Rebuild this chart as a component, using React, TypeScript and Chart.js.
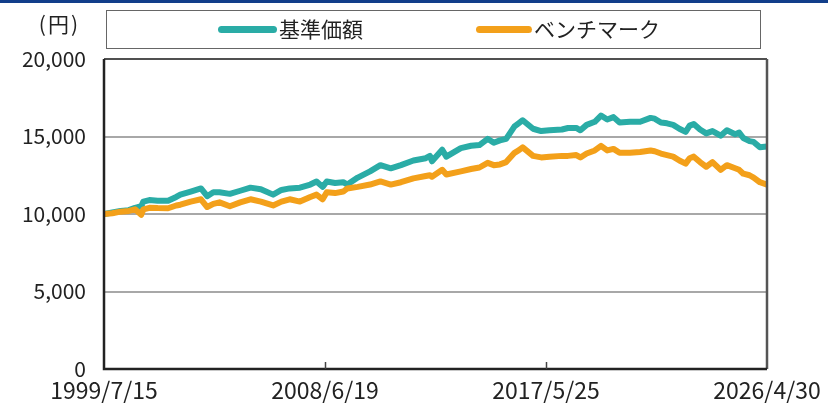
import React, { useEffect, useRef } from "react";
import { Chart, registerables } from "chart.js";

Chart.register(...registerables);

const dates = [
  "1999/7/15", "1999/11/15", "2000/3/15", "2000/7/15", "2000/10/15", "2001/1/15", "2001/2/15", "2001/5/15",
  "2001/9/15", "2002/2/15", "2002/6/15", "2002/8/15", "2003/1/15", "2003/6/15", "2003/9/15", "2003/12/15",
  "2004/3/15", "2004/8/15", "2005/1/15", "2005/6/15", "2005/11/15", "2006/5/15", "2006/9/15", "2007/1/15",
  "2007/6/15", "2007/11/15", "2008/2/15", "2008/5/15", "2008/7/15", "2008/11/15", "2009/3/15", "2009/5/15",
  "2009/10/15", "2010/4/15", "2010/9/15", "2011/2/15", "2011/7/15", "2012/1/15", "2012/7/15", "2012/9/15",
  "2012/10/15", "2013/3/15", "2013/5/15", "2013/12/15", "2014/5/15", "2014/9/15", "2015/1/15", "2015/4/15",
  "2015/7/15", "2015/10/15", "2016/2/15", "2016/4/15", "2016/6/15", "2016/11/15", "2017/3/15", "2017/7/15",
  "2018/1/15", "2018/4/15", "2018/8/15", "2018/10/15", "2019/1/15", "2019/5/15", "2019/8/15", "2019/11/15",
  "2020/2/15", "2020/5/15", "2020/10/15", "2021/3/15", "2021/8/15", "2021/10/15", "2022/1/15", "2022/4/15",
  "2022/7/15", "2022/10/15", "2023/1/15", "2023/3/15", "2023/5/15", "2023/8/15", "2023/11/15", "2024/2/15",
  "2024/6/15", "2024/9/15", "2025/1/15", "2025/3/15", "2025/5/15", "2025/8/15", "2025/10/15", "2026/1/15",
  "2026/4/30",
];

const navValues = [
  10000, 10100, 10200, 10250, 10400, 10500, 10800, 10900,
  10850, 10850, 11100, 11250, 11450, 11650, 11150, 11400,
  11400, 11300, 11500, 11700, 11600, 11250, 11550, 11650,
  11700, 11900, 12100, 11750, 12100, 12000, 12050, 11900,
  12350, 12750, 13150, 12950, 13150, 13450, 13600, 13750,
  13400, 14150, 13700, 14250, 14400, 14450, 14850, 14600,
  14750, 14850, 15650, 15850, 16050, 15500, 15350, 15400,
  15450, 15550, 15550, 15400, 15750, 15950, 16350, 16100,
  16250, 15900, 15950, 15950, 16200, 16150, 15900, 15850,
  15750, 15500, 15300, 15700, 15800, 15450, 15200, 15350,
  15050, 15400, 15150, 15250, 14900, 14700, 14650, 14300,
  14350,
];

const benchValues = [
  10000, 10050, 10150, 10200, 10300, 9950, 10300, 10400,
  10380, 10370, 10550, 10600, 10800, 10950, 10450, 10650,
  10750, 10500, 10750, 10950, 10800, 10550, 10800, 10950,
  10800, 11100, 11250, 10950, 11400, 11350, 11450, 11650,
  11750, 11900, 12100, 11900, 12050, 12300, 12450, 12500,
  12400, 12850, 12550, 12750, 12900, 13000, 13300, 13150,
  13200, 13350, 13950, 14100, 14300, 13750, 13650, 13700,
  13750, 13750, 13800, 13650, 13900, 14100, 14400, 14100,
  14200, 13950, 13950, 14000, 14100, 14050, 13900, 13800,
  13700, 13450, 13250, 13600, 13700, 13350, 13050, 13350,
  12850, 13150, 12950, 12850, 12600, 12500, 12350, 12050,
  11900,
];

const xTickLabels = ["1999/7/15", "2008/6/19", "2017/5/25", "2026/4/30"];
const yTickValues = [0, 5000, 10000, 15000, 20000];
const seriesNames = ["基準価額", "ベンチマーク"];
const yUnit = "(円)";

const TEAL = "#2aaca6";
const ORANGE = "#f3a01a";
const FONT = '"Noto Sans CJK JP", "Noto Sans", sans-serif';

function toMs(s: string): number {
  const [y, m, d] = s.split("/").map(Number);
  return Date.UTC(y, m - 1, d);
}

const tickMs = xTickLabels.map(toMs);

const framePlugin = {
  id: "frame",
  afterDraw(chart: any) {
    const { ctx, chartArea } = chart;
    const { left, right, top, bottom } = chartArea;
    ctx.save();
    ctx.strokeStyle = "#333";
    ctx.lineWidth = 1.5;
    ctx.beginPath();
    ctx.moveTo(left, top);
    ctx.lineTo(right, top);
    ctx.stroke();
    ctx.strokeStyle = "#555";
    ctx.lineWidth = 2.5;
    ctx.beginPath();
    ctx.moveTo(right, top);
    ctx.lineTo(right, bottom);
    ctx.stroke();
    ctx.strokeStyle = "#222";
    ctx.lineWidth = 2.5;
    ctx.beginPath();
    ctx.moveTo(left, top);
    ctx.lineTo(left, bottom);
    ctx.lineTo(right, bottom);
    ctx.stroke();
    const xs = chart.scales.x;
    ctx.strokeStyle = "#444";
    ctx.lineWidth = 1.5;
    tickMs.slice(1, -1).forEach((v) => {
      const px = Math.round(xs.getPixelForValue(v)) + 0.5;
      ctx.beginPath();
      ctx.moveTo(px, bottom);
      ctx.lineTo(px, bottom - 7);
      ctx.stroke();
    });
    ctx.restore();
  },
};

export default function App() {
  const ref = useRef<HTMLCanvasElement | null>(null);

  useEffect(() => {
    if (!ref.current) return;
    const xs = dates.map(toMs);
    const chart = new Chart(ref.current, {
      type: "line",
      data: {
        datasets: [
          {
            label: seriesNames[1],
            data: xs.map((x, i) => ({ x, y: benchValues[i] })),
            borderColor: ORANGE,
            backgroundColor: ORANGE,
            borderWidth: 6,
            pointRadius: 0,
            tension: 0,
            borderJoinStyle: "round",
            borderCapStyle: "round",
          },
          {
            label: seriesNames[0],
            data: xs.map((x, i) => ({ x, y: navValues[i] })),
            borderColor: TEAL,
            backgroundColor: TEAL,
            borderWidth: 6,
            pointRadius: 0,
            tension: 0,
            borderJoinStyle: "round",
            borderCapStyle: "round",
          },
        ],
      },
      options: {
        animation: false,
        responsive: false,
        maintainAspectRatio: false,
        layout: { padding: { left: 0, right: 61, top: 59, bottom: 0 } },
        plugins: { legend: { display: false }, tooltip: { enabled: false } },
        scales: {
          x: {
            type: "linear",
            min: tickMs[0],
            max: tickMs[tickMs.length - 1],
            afterFit: (s: any) => {
              s.height = 34;
            },
            afterBuildTicks: (s: any) => {
              s.ticks = tickMs.map((v) => ({ value: v }));
            },
            ticks: {
              autoSkip: false,
              maxRotation: 0,
              padding: 7,
              color: "#222",
              font: { family: FONT, size: 23 },
              callback: (v: any) => {
                const i = tickMs.indexOf(Number(v));
                return i >= 0 ? xTickLabels[i] : "";
              },
            },
            grid: { display: false, drawTicks: false },
            border: { display: false },
          },
          y: {
            min: 0,
            max: 20000,
            afterFit: (s: any) => {
              s.width = 104;
            },
            afterBuildTicks: (s: any) => {
              s.ticks = yTickValues.map((v) => ({ value: v }));
            },
            ticks: {
              padding: 18,
              color: "#222",
              font: { family: FONT, size: 21 },
              callback: (v: any) => Number(v).toLocaleString("en-US"),
            },
            grid: { color: "#a8a8a8", lineWidth: 2, drawTicks: false },
            border: { display: false },
          },
        },
      },
      plugins: [framePlugin],
    });
    return () => chart.destroy();
  }, []);

  return (
    <div style={{ position: "absolute", left: 0, top: 0, width: 828, height: 403, background: "#fff", overflow: "hidden", fontFamily: FONT }}>
      <div style={{ position: "absolute", left: 0, top: 0, width: 828, height: 3, background: "#123e8a" }} />
      <canvas ref={ref} width={828} height={403} style={{ position: "absolute", left: 0, top: 0, width: 828, height: 403 }} />
      <div style={{ position: "absolute", left: 20, top: 8, width: 60, height: 30, lineHeight: "30px", textAlign: "right", fontSize: 21, letterSpacing: 2, color: "#222" }}>{yUnit}</div>
      <div style={{ position: "absolute", left: 106, top: 10, width: 655, height: 39, border: "1px solid #666", boxSizing: "border-box" }} />
      <div style={{ position: "absolute", left: 218, top: 26, width: 59, height: 7, borderRadius: 4, background: TEAL }} />
      <div style={{ position: "absolute", left: 279, top: 13, height: 30, lineHeight: "30px", fontSize: 21, color: "#222", whiteSpace: "nowrap" }}>{seriesNames[0]}</div>
      <div style={{ position: "absolute", left: 476, top: 26, width: 56, height: 7, borderRadius: 4, background: ORANGE }} />
      <div style={{ position: "absolute", left: 534, top: 13, height: 30, lineHeight: "30px", fontSize: 21, color: "#222", whiteSpace: "nowrap" }}>{seriesNames[1]}</div>
    </div>
  );
}
